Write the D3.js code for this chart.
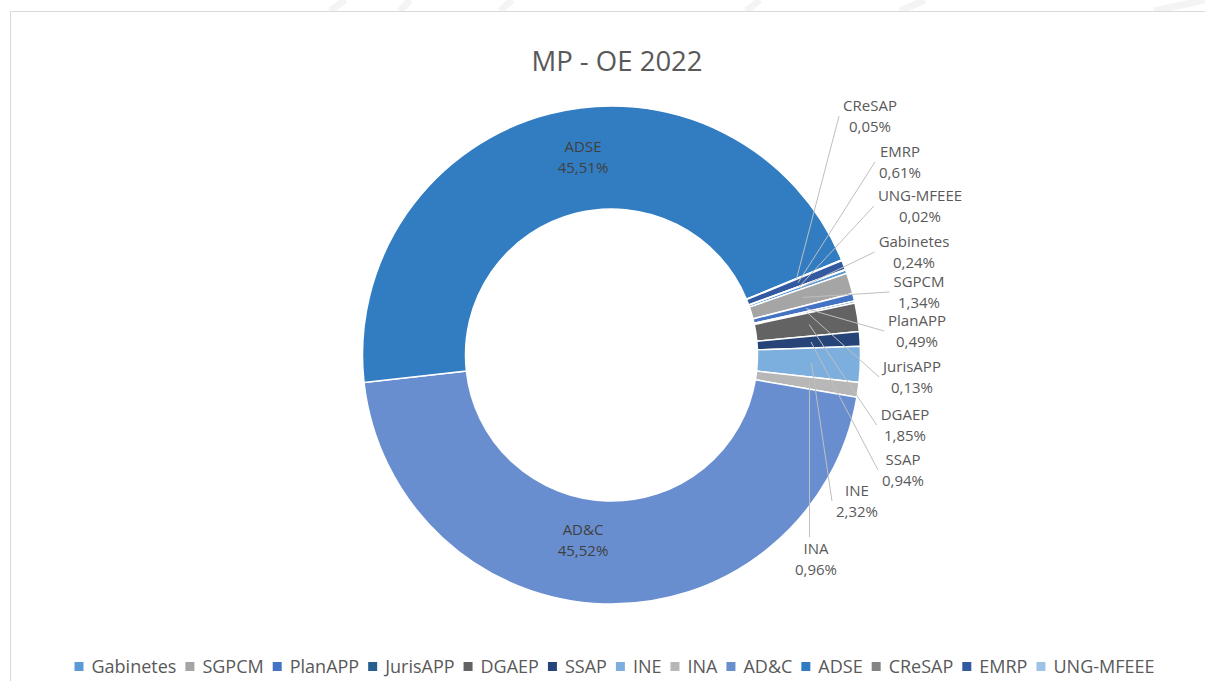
<html>
<head>
<meta charset="utf-8">
<script src="https://cdn.jsdelivr.net/npm/d3@7/dist/d3.min.js"></script>
<style>
body { margin: 0; background: #fff; }
svg text { font-family: 'Open Sans', sans-serif; }
</style>
</head>
<body>
<div id="chart"></div>
<script>

// data (percent of total)
let categories = ['Gabinetes', 'SGPCM', 'PlanAPP', 'JurisAPP', 'DGAEP', 'SSAP', 'INE', 'INA', 'AD&C', 'ADSE', 'CReSAP', 'EMRP', 'UNG-MFEEE'];
let shares = [0.24, 1.34, 0.49, 0.13, 1.85, 0.94, 2.32, 0.96, 45.52, 45.51, 0.05, 0.61, 0.02];
let colors = ['#5b9bd5', '#a5a5a5', '#4472c4', '#255e91', '#636363', '#264478', '#7cafdd', '#b7b7b7', '#698ed0', '#327dc2', '#848484', '#335aa1', '#9dc3e6'];
let title = 'MP - OE 2022';

// where excel dropped the data labels (block centre)
let labelSpots = {
  'Gabinetes': [914, 252], 'SGPCM': [919, 292], 'PlanAPP': [917, 331], 'JurisAPP': [912, 377],
  'DGAEP': [905, 425], 'SSAP': [903, 470], 'INE': [857, 501], 'INA': [816, 559],
  'AD&C': [583, 540], 'ADSE': [583, 157], 'CReSAP': [870, 116], 'EMRP': [900, 162], 'UNG-MFEEE': [920, 206]
};
let insideLabels = ['AD&C', 'ADSE'];

let width = 1205;
let height = 681;
let cx = 611.5, cy = 355;
let outerR = 249, innerR = 146;
let startDeg = 70;

let fmt = v => d3.format('.2f')(v).replace('.', ',') + '%';

let svg = d3.select('#chart')
    .append('svg')
    .attr('width', width)
    .attr('height', height);

// faint watermark strokes above the chart frame
let marks = [[330, 345], [400, 410], [500, 512], [746, 760], [900, 925], [1154, 1205]];
svg.append('g').selectAll('line')
    .data(marks)
    .enter().append('line')
    .attr('x1', d => d[0]).attr('y1', 11)
    .attr('x2', d => d[1]).attr('y2', 0)
    .attr('stroke', '#f4f4f4')
    .attr('stroke-width', 7);

// chart frame
svg.append('rect')
    .attr('x', 10.5).attr('y', 11.5)
    .attr('width', 1210).attr('height', 700)
    .attr('fill', '#fff')
    .attr('stroke', '#d9d9d9');

svg.append('text')
    .attr('x', 617).attr('y', 71)
    .attr('text-anchor', 'middle')
    .attr('font-size', 27.5)
    .attr('fill', '#595959')
    .text(title);

let rows = categories.map((c, i) => ({ name: c, value: shares[i], color: colors[i] }));

let pie = d3.pie()
    .sort(null)
    .value(d => d.value)
    .startAngle(startDeg * Math.PI / 180)
    .endAngle(startDeg * Math.PI / 180 + 2 * Math.PI);

let arc = d3.arc().innerRadius(innerR).outerRadius(outerR);
let midArc = d3.arc().innerRadius(200).outerRadius(200);

let arcs = pie(rows);

let ring = svg.append('g')
    .attr('transform', 'translate(' + cx + ',' + cy + ')');

ring.selectAll('path')
    .data(arcs)
    .enter().append('path')
    .attr('d', arc)
    .attr('fill', d => d.data.color)
    .attr('stroke', '#fff')
    .attr('stroke-width', 1.5);

// labels
let labelG = svg.append('g');
arcs.forEach(a => {
  let name = a.data.name;
  let spot = labelSpots[name];
  let inside = insideLabels.indexOf(name) >= 0;
  let g = labelG.append('g');
  let t1 = g.append('text')
      .attr('x', spot[0]).attr('y', spot[1] - 5)
      .attr('text-anchor', 'middle')
      .attr('font-size', 15)
      .attr('fill', inside ? '#404040' : '#595959')
      .text(name);
  let t2 = g.append('text')
      .attr('x', spot[0]).attr('y', spot[1] + 16)
      .attr('text-anchor', 'middle')
      .attr('font-size', 15)
      .attr('fill', inside ? '#404040' : '#595959')
      .text(fmt(a.data.value));
  if (inside) return;

  let hw = Math.max(t1.node().getComputedTextLength(), t2.node().getComputedTextLength()) / 2;
  let c = midArc.centroid(a);
  let sx = cx + c[0], sy = cy + c[1];
  let ex, ey;
  if (Math.abs(spot[0] - sx) < hw + 5) {
    // label sits below the slice: hook into its top
    ex = Math.min(Math.max(sx, spot[0] - hw), spot[0] + hw);
    ey = spot[1] - 22;
  } else {
    ex = spot[0] - hw - 4;
    ey = spot[1];
  }
  labelG.insert('polyline', ':first-child')
      .attr('points', [[sx, sy], [ex, ey]].map(p => p.join(',')).join(' '))
      .attr('fill', 'none')
      .attr('stroke', '#bfbfbf')
      .attr('stroke-width', 1);
});

// legend
let legend = svg.append('g');
let items = legend.selectAll('g')
    .data(rows)
    .enter().append('g');
items.append('rect')
    .attr('width', 9).attr('height', 9)
    .attr('y', 662)
    .attr('fill', d => d.color);
items.append('text')
    .attr('x', 17)
    .attr('y', 672.5)
    .attr('font-size', 18)
    .attr('fill', '#595959')
    .text(d => d.name);

let xPos = 0;
items.each(function () {
  let w = d3.select(this).select('text').node().getComputedTextLength();
  d3.select(this).attr('transform', 'translate(' + xPos + ',0)');
  xPos += 17 + w + 9;
});
let total = xPos - 9;
legend.attr('transform', 'translate(' + (614.5 - total / 2) + ',0)');

</script>
</body>
</html>
